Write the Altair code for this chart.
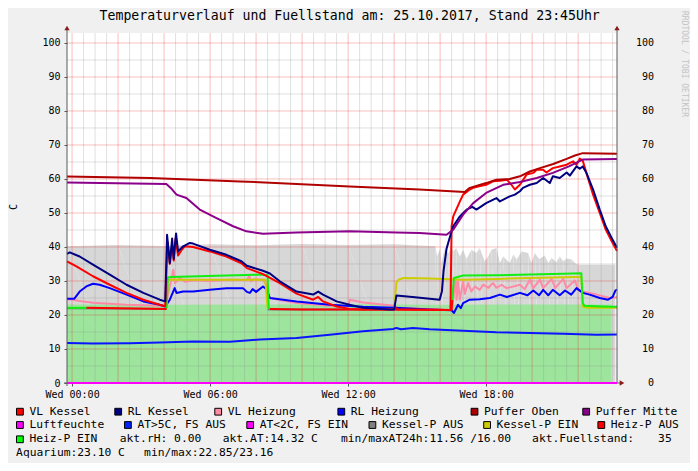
import altair as alt
import pandas as pd

# ---------------- data (t = hours after Wed 00:00, v = value) ----------------
T_START, T_END = -0.22, 23.69
Y_MAX = 102.94

VL_KESSEL_T = [-0.22, 0.19, 0.91, 1.64, 2.37, 3.1, 3.81, 4.05, 4.15, 4.25, 4.35, 4.42, 4.5, 4.61, 4.75, 4.9,
               5.26, 5.99, 6.71, 7.36, 7.6, 8.16, 8.3, 9.03, 9.76, 10.48, 10.7, 10.91, 11.5, 12.07, 12.65,
               14.0, 14.03, 14.1, 16.45, 16.5, 16.57, 16.86, 17.0, 17.29, 17.44, 17.65, 18.0, 18.3, 18.6,
               18.9, 19.1, 19.25, 19.47, 19.76, 20.05, 20.2, 20.48, 20.62, 20.9, 21.2, 21.5, 21.78, 21.93,
               22.07, 22.2, 22.36, 22.65, 22.94, 23.2, 23.5, 23.69]
VL_KESSEL_V = [35.8, 34.3, 31.4, 28.9, 26.5, 24.5, 23.0, 22.6, 41.5, 35.0, 40.5, 36.0, 42.5, 37.5, 39.0, 40.2,
               40.0, 38.7, 37.2, 35.2, 33.8, 32.4, 32.0, 29.4, 26.3, 24.5, 25.3, 24.0, 22.5, 21.8, 21.6,
               21.6, 22.7, 21.6, 21.5, 46.1, 49.0, 53.4, 55.4, 56.9, 57.4, 57.8, 58.3, 59.3, 59.5,
               59.8, 58.3, 56.9, 58.3, 61.3, 61.8, 62.7, 62.7, 61.9, 63.2, 63.7, 64.2, 65.2, 64.2,
               66.0, 65.4, 61.8, 55.4, 50.0, 45.1, 41.2, 38.8]

RL_KESSEL_T = [-0.22, -0.1, 0.33, 0.91, 1.64, 2.37, 3.1, 3.81, 4.05, 4.13, 4.25, 4.35, 4.42, 4.52, 4.61, 4.83,
               5.12, 5.26, 5.99, 6.71, 7.36, 7.6, 8.3, 8.6, 9.03, 9.76, 10.48, 10.7, 10.91, 11.5, 12.07,
               12.65, 13.8, 14.0, 14.1, 14.8, 15.98, 16.08, 16.15, 16.28, 16.45, 16.57, 16.86, 17.15, 17.4,
               17.58, 18.0, 18.45, 18.6, 19.03, 19.25, 19.47, 19.6, 19.9, 20.2, 20.48, 20.77, 20.9, 21.2,
               21.5, 21.64, 21.93, 22.07, 22.2, 22.36, 22.65, 22.94, 23.2, 23.5, 23.69]
RL_KESSEL_V = [38.0, 38.4, 37.2, 34.8, 31.9, 28.9, 26.5, 24.5, 24.0, 43.6, 35.3, 42.5, 36.5, 44.0, 38.7, 40.2,
               41.2, 41.0, 39.2, 37.7, 35.8, 34.5, 33.0, 32.2, 29.9, 26.9, 26.0, 26.9, 26.0, 24.0, 23.0,
               22.1, 21.6, 21.6, 25.7, 25.3, 24.5, 27.0, 33.0, 39.5, 43.5, 46.1, 49.0, 51.0, 51.8,
               51.0, 52.9, 54.4, 53.4, 54.9, 55.4, 56.4, 57.4, 58.3, 58.8, 60.3, 58.8, 60.8, 60.3,
               61.9, 61.0, 63.7, 63.0, 63.7, 61.8, 56.9, 51.0, 46.1, 42.1, 39.8]

VL_HEIZUNG_T = [-0.22, 0.04, 0.33, 0.91, 2.37, 3.81, 4.05, 4.2, 4.3, 4.4, 4.48, 4.68, 4.9, 5.3, 6.0, 6.8,
                7.6, 7.7, 7.78, 7.9, 8.3, 8.45, 8.58, 9.76, 11.2, 12.0, 12.08, 12.65, 14.0, 14.1, 15.98,
                16.5, 16.57, 16.68, 16.72, 16.78, 16.86, 17.0, 17.07, 17.22, 17.36, 17.51, 17.72, 17.87,
                18.1, 18.3, 18.45, 18.67, 18.89, 19.18, 19.47, 19.68, 19.9, 20.05, 20.34, 20.48, 20.85,
                21.0, 21.35, 21.5, 21.86, 22.0, 22.2, 22.8, 23.38, 23.69]
VL_HEIZUNG_V = [24.6, 24.5, 24.1, 23.6, 23.0, 22.7, 22.6, 27.0, 30.0, 33.3, 29.4, 30.9, 29.8, 30.2, 30.0, 30.4,
                30.3, 31.5, 29.9, 30.5, 30.4, 28.9, 25.0, 23.5, 22.7, 22.4, 24.5, 23.7, 22.7, 22.1, 21.6,
                21.4, 24.5, 30.4, 24.5, 29.9, 24.5, 29.9, 26.2, 29.4, 26.9, 28.4, 27.4, 28.9,
                28.0, 29.4, 28.0, 28.9, 27.9, 28.4, 28.9, 27.6, 30.4, 27.9, 30.4, 27.9, 30.6,
                27.9, 30.6, 27.9, 30.2, 27.4, 26.9, 26.0, 25.0, 25.2]

RL_HEIZUNG_T = [-0.22, 0.1, 0.33, 0.62, 0.91, 1.2, 1.64, 2.37, 3.1, 3.81, 4.05, 4.25, 4.46, 4.54, 4.83, 5.26,
                5.99, 6.71, 7.43, 7.6, 7.73, 7.85, 8.0, 8.3, 8.45, 8.6, 9.76, 11.2, 12.65, 14.03, 15.55,
                16.5, 16.6, 16.78, 16.9, 17.0, 17.29, 17.72, 18.16, 18.6, 18.9, 19.47, 19.8, 20.05, 20.3,
                20.48, 20.7, 20.9, 21.2, 21.43, 21.7, 21.93, 22.2, 22.5, 22.94, 23.3, 23.5, 23.62, 23.69]
RL_HEIZUNG_V = [24.8, 24.8, 26.9, 28.4, 29.2, 28.9, 27.9, 26.0, 24.0, 23.0, 22.5, 24.5, 27.9, 26.5, 26.9, 26.9,
                27.4, 27.9, 27.9, 26.8, 26.5, 27.6, 26.8, 28.4, 27.6, 25.0, 24.0, 23.0, 22.4, 22.1, 21.6,
                21.4, 20.6, 23.0, 22.0, 23.5, 24.5, 24.6, 25.0, 26.0, 25.3, 26.5, 25.8, 27.2, 25.8,
                27.4, 25.8, 27.4, 25.8, 27.2, 26.0, 27.9, 26.5, 26.0, 25.0, 24.5, 25.3, 27.2, 27.5]

PUFFER_OBEN_T = [-0.22, 3.4, 7.3, 12.07, 15.1, 17.07, 17.29, 18.0, 18.45, 19.03, 19.47, 19.9, 20.34, 20.92,
                 21.5, 21.86, 22.2, 22.95, 23.69]
PUFFER_OBEN_V = [60.7, 60.3, 59.3, 57.8, 56.9, 56.2, 57.4, 58.8, 59.8, 60.0, 60.8, 62.2, 63.2, 64.4,
                 65.9, 66.9, 67.6, 67.5, 67.4]

PUFFER_MITTE_T = [-0.22, 4.1, 4.3, 4.54, 4.97, 5.55, 6.28, 7.0, 7.58, 8.3, 9.76, 12.07, 14.1, 15.1, 16.28,
                  16.57, 17.0, 17.44, 18.0, 18.74, 19.47, 20.2, 20.9, 21.6, 22.2, 23.69]
PUFFER_MITTE_V = [59.0, 58.5, 57.3, 55.4, 54.4, 51.0, 48.5, 46.1, 44.6, 43.9, 44.3, 44.6, 44.3, 44.1, 43.6,
                  45.1, 49.5, 52.9, 55.9, 58.3, 59.1, 60.3, 61.8, 63.7, 65.7, 65.9]

LUFTFEUCHTE_T = [-0.22, 23.69]
LUFTFEUCHTE_V = [0.0, 0.0]

AT_T = [-0.22, 0.91, 2.5, 3.81, 5.26, 6.86, 8.16, 9.76, 11.2, 11.93, 12.65, 13.96, 14.1, 14.3, 14.82, 15.55,
        17.0, 18.45, 19.9, 21.35, 22.8, 23.69]
AT_V = [11.8, 11.6, 11.7, 11.9, 12.2, 12.1, 12.8, 13.2, 14.2, 14.7, 15.2, 15.9, 16.2, 15.8, 16.2, 15.8,
        15.4, 14.9, 14.7, 14.5, 14.2, 14.3]

KESSEL_P_AUS_SEGS = [([-0.22, 4.11], [22.0, 21.8]),
                     ([8.5, 14.0], [21.6, 21.6])]
KESSEL_P_EIN_SEGS = [([4.11, 4.16, 4.3, 8.4, 8.5], [22.0, 30.2, 30.4, 30.4, 22.0]),
                     ([14.0, 14.1, 14.2, 14.4, 15.55, 17.0, 18.45, 19.9, 21.93, 22.14, 22.2, 22.4, 23.69],
                      [21.6, 29.5, 30.4, 30.9, 30.7, 30.4, 30.6, 30.9, 31.2, 31.2, 22.5, 22.1, 22.1])]
HEIZ_P_AUS_SEGS = [([0.62, 2.0, 4.11], [22.1, 22.0, 21.8]),
                   ([8.6, 10.0, 14.0, 16.5, 16.53], [21.8, 21.6, 21.6, 21.5, 24.5])]
HEIZ_P_EIN_SEGS = [([-0.22, 0.62], [22.1, 22.1]),
                   ([4.11, 4.16, 4.3, 6.71, 8.16, 8.5, 8.55, 8.6], [22.0, 31.0, 31.2, 31.6, 31.9, 31.7, 22.1, 21.9]),
                   ([16.53, 16.6, 17.0, 18.45, 19.9, 21.35, 22.14, 22.2, 22.28, 23.0, 23.69],
                    [24.5, 30.9, 31.6, 31.7, 31.9, 32.1, 32.3, 23.5, 22.7, 22.5, 22.4])]

FUEL_T = [-0.22, 2, 4, 6, 8, 10, 12, 14, 15.8, 15.87, 16.0, 16.06, 16.2, 16.35, 16.5, 16.57, 16.7, 16.86,
          17.0, 17.15, 17.36, 17.58, 17.72, 17.94, 18.09, 18.23, 18.45, 18.6, 18.74, 19.03, 19.18, 19.33,
          19.54, 19.83, 19.97, 20.12, 20.3, 20.55, 20.7, 20.85, 21.05, 21.2, 21.35, 21.5, 21.72, 21.86,
          22.0, 23.62]
FUEL_V = [40.2, 40.6, 40.3, 40.8, 40.5, 40.9, 40.6, 40.8, 40.2, 37.2, 39.5, 35.3, 39.7, 38.0, 40.2, 38.7,
          39.7, 37.2, 39.2, 36.5, 39.2, 38.2, 39.7, 35.8, 37.2, 39.2, 39.7, 35.3, 37.2, 35.3, 37.8, 36.3,
          38.7, 38.2, 35.3, 38.2, 36.5, 37.5, 35.3, 36.8, 35.5, 37.2, 35.8, 36.6, 36.3, 35.3, 34.8, 34.8]

AQUARIUM_T = [-0.22, 4, 8, 12, 16, 20, 23.45]
AQUARIUM_V = [23.1, 23.0, 23.1, 23.15, 23.0, 23.1, 23.1]

X_LABEL_HOURS = [0, 6, 12, 18]
Y_TICKS = list(range(0, 101, 10))

TITLE = "Temperaturverlauf und Fuellstand am: 25.10.2017, Stand 23:45Uhr"

LEGEND_ROW1 = ["VL Kessel", "RL Kessel", "VL Heizung", "RL Heizung", "Puffer Oben", "Puffer Mitte"]
LEGEND_ROW1_COLORS = ["#ff0000", "#000080", "#ff8aa6", "#0000ff", "#aa0000", "#880088"]
LEGEND_ROW2 = ["Luftfeuchte", "AT>5C, FS AUS", "AT<2C, FS EIN", "Kessel-P AUS", "Kessel-P EIN", "Heiz-P AUS"]
LEGEND_ROW2_COLORS = ["#ff00ff", "#0022ff", "#ff00ff", "#808080", "#cccc00", "#ff0000"]
LEGEND_ROW3 = ["Heiz-P EIN"]
LEGEND_ROW3_COLORS = ["#00ff00"]
INFO_ROW3 = ["akt.rH: 0.00", "akt.AT:14.32 C", "min/maxAT24h:11.56 /16.00", "akt.Fuellstand:"]
INFO_ROW3_VALUE = "35"
INFO_ROW4 = ["Aquarium:23.10 C", "min/max:22.85/23.16"]

# ---------------- layout constants ----------------
W, H = 550, 350
FONT = "DejaVu Sans Mono"
ROW_Y = [378.7, 392.0, 406.3, 419.7]
ROW1_X = [-50.9, 47.4, 147.4, 270.5, 403.7, 515.4]
ROW2_X = [-50.9, 57.1, 179.4, 301.6, 416.3, 530.5]
ROW3_X = [-50.9]
INFO3_X = [52.7, 155.7, 274.0, 465.1]
INFO3_VALUE_X = 604.7
INFO4_X = [-50.9, 77.1]

xs = alt.Scale(domain=[T_START, T_END], nice=False, zero=False)
ys = alt.Scale(domain=[0, Y_MAX], nice=False, zero=True)

x_axis = alt.Axis(values=X_LABEL_HOURS,
                  labelExpr="'Wed ' + (datum.value < 10 ? '0' : '') + datum.value + ':00'",
                  grid=False, title=None, domain=False, tickSize=3, tickColor="#555555",
                  labelPadding=3, labelFont=FONT, labelFontSize=10, labelColor="#000000",
                  labelFlush=False, labelOverlap=False)
y_axis = alt.Axis(values=Y_TICKS, grid=False, title=None, domain=False, tickSize=3,
                  tickColor="#555555", labelPadding=4, labelFont=FONT, labelFontSize=10,
                  labelColor="#000000", labelFlush=False, labelOverlap=False)


def XE():
    return alt.X("t:Q", scale=xs, axis=x_axis)


def YE():
    return alt.Y("v:Q", scale=ys, axis=y_axis)


def frame(t, v, seg=0):
    return pd.DataFrame({"t": t, "v": v, "seg": [seg] * len(t), "i": list(range(len(t)))})


def seg_frame(segs):
    return pd.concat([frame(t, v, k) for k, (t, v) in enumerate(segs)], ignore_index=True)


def line(df, color, width=2):
    return alt.Chart(df).mark_line(color=color, strokeWidth=width, strokeJoin="round",
                                   interpolate="linear").encode(
        x=XE(), y=YE(), detail="seg:N", order="i:Q")


def px_pos():
    return dict(x=alt.X("px:Q", scale=None, axis=None), y=alt.Y("py:Q", scale=None, axis=None))


one = pd.DataFrame({"a": [0]})
layers = []

# areas
layers.append(alt.Chart(frame(FUEL_T, FUEL_V)).mark_area(color="#d7d7d7", opacity=1).encode(
    x=XE(), y=YE(), order="i:Q"))
layers.append(alt.Chart(frame(AQUARIUM_T, AQUARIUM_V)).mark_area(color="#9de59d", opacity=1).encode(
    x=XE(), y=YE(), order="i:Q"))

# grid
minor_x = [k * 0.5 for k in range(0, 48) if k % 4 != 0]
major_x = [k * 2.0 for k in range(0, 12)]
minor_y = [5 + 10 * k for k in range(10)]
major_y = [10 * k for k in range(1, 11)]
layers.append(alt.Chart(pd.DataFrame({"t": minor_x})).mark_rule(color="#8f8f8f", opacity=0.28,
                                                                 strokeWidth=1).encode(x=XE()))
layers.append(alt.Chart(pd.DataFrame({"v": minor_y})).mark_rule(color="#8f8f8f", opacity=0.28,
                                                                 strokeWidth=1).encode(y=YE()))
layers.append(alt.Chart(pd.DataFrame({"t": major_x})).mark_rule(color="#f00000", opacity=0.25,
                                                                 strokeWidth=1).encode(x=XE()))
layers.append(alt.Chart(pd.DataFrame({"v": major_y})).mark_rule(color="#f00000", opacity=0.25,
                                                                 strokeWidth=1).encode(y=YE()))

# lines
layers.append(line(frame(AT_T, AT_V), "#0a14ff"))
layers.append(line(seg_frame(KESSEL_P_AUS_SEGS), "#808080"))
layers.append(line(frame(VL_HEIZUNG_T, VL_HEIZUNG_V), "#ff8aa6"))
layers.append(line(frame(RL_HEIZUNG_T, RL_HEIZUNG_V), "#0000ff"))
layers.append(line(seg_frame(KESSEL_P_EIN_SEGS), "#cccc00"))
layers.append(line(seg_frame(HEIZ_P_AUS_SEGS), "#ff0000"))
layers.append(line(seg_frame(HEIZ_P_EIN_SEGS), "#11ee11"))
layers.append(line(frame(VL_KESSEL_T, VL_KESSEL_V), "#ff0000"))
layers.append(line(frame(RL_KESSEL_T, RL_KESSEL_V), "#000080"))
layers.append(line(frame(PUFFER_OBEN_T, PUFFER_OBEN_V), "#b00000"))
layers.append(line(frame(PUFFER_MITTE_T, PUFFER_MITTE_V), "#8b008b"))

# axes lines and arrows
AXIS_COL = "#5a5a5a"
ARROW_COL = "#8b1a1a"
layers.append(alt.Chart(one).mark_rule(color=AXIS_COL, strokeWidth=1).encode(
    x=alt.value(0), y=alt.value(-5), y2=alt.value(353)))
layers.append(alt.Chart(one).mark_rule(color=AXIS_COL, strokeWidth=1).encode(
    x=alt.value(W), y=alt.value(-5), y2=alt.value(H)))
layers.append(alt.Chart(one).mark_rule(color=AXIS_COL, strokeWidth=1).encode(
    x=alt.value(-3), x2=alt.value(W + 4), y=alt.value(H)))
layers.append(line(frame(LUFTFEUCHTE_T, LUFTFEUCHTE_V), "#ff00ff"))
for ax, ay, shp in [(0, -5, "triangle-up"), (W, -5, "triangle-up"), (W + 5, H, "triangle-right")]:
    layers.append(alt.Chart(one).mark_point(shape=shp, filled=True, size=28, color=ARROW_COL,
                                            opacity=1).encode(x=alt.value(ax), y=alt.value(ay)))

# right axis labels (through the y scale)
layers.append(alt.Chart(pd.DataFrame({"v": Y_TICKS, "lab": [str(v) for v in Y_TICKS]})).mark_text(
    align="right", baseline="middle", font=FONT, fontSize=10, color="#000000").encode(
    y=YE(), x=alt.value(W + 37), text="lab:N"))

# title, unit, watermark
layers.append(alt.Chart(one).mark_text(text=TITLE, font=FONT, fontSize=13.2, color="#000000",
                                       align="center", baseline="middle").encode(
    x=alt.value(282.7), y=alt.value(-17)))
layers.append(alt.Chart(one).mark_text(text="C", font=FONT, fontSize=10, color="#000000",
                                       align="center", baseline="middle", angle=270).encode(
    x=alt.value(-53.3), y=alt.value(174)))
layers.append(alt.Chart(one).mark_text(text="RRDTOOL / TOBI OETIKER", font=FONT, fontSize=8,
                                       color="#c4c4c4", align="center", baseline="middle",
                                       angle=90).encode(x=alt.value(616.5), y=alt.value(31)))

# legend
box_rows = [(LEGEND_ROW1, LEGEND_ROW1_COLORS, ROW1_X, ROW_Y[0]),
            (LEGEND_ROW2, LEGEND_ROW2_COLORS, ROW2_X, ROW_Y[1]),
            (LEGEND_ROW3, LEGEND_ROW3_COLORS, ROW3_X, ROW_Y[2])]
recs = []
for labels, cols, xs_, y in box_rows:
    for lab, c, x in zip(labels, cols, xs_):
        recs.append({"label": lab, "c": c, "bx": x + 3.8, "px": x + 13.3, "py": y})
leg = pd.DataFrame(recs)
layers.append(alt.Chart(leg).mark_square(size=46, stroke="#000000", strokeWidth=1, opacity=1).encode(
    x=alt.X("bx:Q", scale=None, axis=None), y=alt.Y("py:Q", scale=None, axis=None),
    color=alt.Color("c:N", scale=None)))
layers.append(alt.Chart(leg).mark_text(align="left", baseline="middle", font=FONT, fontSize=11.3,
                                       color="#000000").encode(**px_pos(), text="label:N"))

info = pd.DataFrame(
    [{"label": s, "px": x, "py": ROW_Y[2]} for s, x in zip(INFO_ROW3, INFO3_X)] +
    [{"label": s, "px": x, "py": ROW_Y[3]} for s, x in zip(INFO_ROW4, INFO4_X)])
layers.append(alt.Chart(info).mark_text(align="left", baseline="middle", font=FONT, fontSize=11.3,
                                        color="#000000").encode(**px_pos(), text="label:N"))
layers.append(alt.Chart(one).mark_text(text=INFO_ROW3_VALUE, align="right", baseline="middle",
                                       font=FONT, fontSize=11.3, color="#000000").encode(
    x=alt.value(INFO3_VALUE_X), y=alt.value(ROW_Y[2])))

chart = alt.layer(*layers).properties(
    width=W, height=H,
    autosize=alt.AutoSizeParams(type="none"),
    padding={"left": 59, "top": 25, "right": 73, "bottom": 80},
    background="#f0f0f0",
).configure_view(fill="#ffffff", stroke=None)

chart.save("out.html", embed_options={"renderer": "svg", "actions": False})
